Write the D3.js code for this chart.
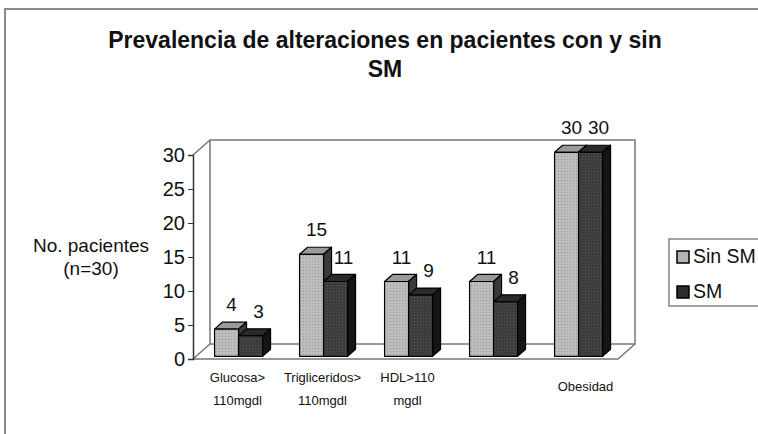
<!DOCTYPE html>
<html lang="es">
  <head>
    <meta charset="UTF-8" />
    <title>Prevalencia de alteraciones en pacientes con y sin SM</title>
    <script src="https://d3js.org/d3.v7.min.js"></script>
    <style>
      body {
        margin: 0;
        padding: 0;
        background: #fff;
        font-family: "Liberation Sans", Arial, sans-serif;
      }
      svg {
        display: block;
      }
    </style>
  </head>
  <body>
    <svg width="758" height="434"></svg>
    <script>
      // data
      const categories = ["Glucosa", "Trigliceridos", "HDL", "Otro", "Obesidad"];
      const categoryLabels = [
        ["Glucosa>", "110mgdl"],
        ["Trigliceridos>", "110mgdl"],
        ["HDL>110", "mgdl"],
        [],
        ["Obesidad"],
      ];
      const sinSM = [4, 15, 11, 11, 30];
      const conSM = [3, 11, 9, 8, 30];
      const yTicks = [0, 5, 10, 15, 20, 25, 30];
      const seriesNames = ["Sin SM", "SM"];

      const svg = d3.select("svg");

      // outer frame of the chart area
      svg
        .append("rect")
        .attr("x", 5)
        .attr("y", 9)
        .attr("width", 800)
        .attr("height", 500)
        .attr("fill", "none")
        .attr("stroke", "#8a8a8a")
        .attr("stroke-width", 2);

      // title
      const title = svg
        .append("text")
        .attr("text-anchor", "middle")
        .attr("font-weight", "bold")
        .attr("font-size", 23)
        .attr("fill", "#111");
      title.append("tspan").attr("x", 385).attr("y", 48).text("Prevalencia de alteraciones en pacientes con y sin");
      title.append("tspan").attr("x", 385).attr("y", 77).text("SM");

      const x = d3.scaleBand().domain(categories).range([193, 618]);
      const y = d3.scaleLinear().domain([0, 30]).range([359, 155]);

      // 3d depth of the box
      const dx = 17,
        dy = -15;
      const barW = 24;
      const fOff = 0.18; // bar front position inside depth
      const fDepth = 0.47; // bar depth

      const frame = svg.append("g").attr("fill", "none").attr("stroke", "#777").attr("stroke-width", 1.5);
      const x0 = x.range()[0],
        x1 = x.range()[1];
      // back wall
      frame
        .append("rect")
        .attr("x", x0 + dx)
        .attr("y", y(30) + dy)
        .attr("width", x1 - x0)
        .attr("height", y(0) - y(30));
      // left wall
      frame
        .append("path")
        .attr("d", `M${x0},${y(30)}L${x0 + dx},${y(30) + dy}M${x0},${y(0)}L${x0 + dx},${y(0) + dy}`);
      // floor
      frame
        .append("path")
        .attr("d", `M${x0},${y(0)}L${x1},${y(0)}L${x1 + dx},${y(0) + dy}`);

      // y axis
      const yAxis = svg
        .append("g")
        .attr("transform", `translate(${x0},0)`)
        .call(d3.axisLeft(y).tickValues(yTicks).tickSize(5).tickPadding(3));
      yAxis.select(".domain").attr("stroke", "#333").attr("stroke-width", 1.5);
      yAxis.selectAll(".tick line").attr("stroke", "#333");
      yAxis
        .selectAll(".tick text")
        .attr("font-family", "Liberation Sans, Arial, sans-serif")
        .attr("font-size", 20)
        .attr("fill", "#111");

      // axis title
      const yTitle = svg
        .append("text")
        .attr("text-anchor", "middle")
        .attr("font-size", 19)
        .attr("fill", "#111");
      yTitle.append("tspan").attr("x", 91).attr("y", 252).text("No. pacientes");
      yTitle.append("tspan").attr("x", 91).attr("y", 275).text("(n=30)");

      // dotted texture for the bars
      const defs = svg.append("defs");
      const pat = defs
        .append("pattern")
        .attr("id", "dots")
        .attr("width", 3)
        .attr("height", 3)
        .attr("patternUnits", "userSpaceOnUse");
      pat.append("rect").attr("width", 3).attr("height", 3).attr("fill", "#bdbdbd");
      pat.append("rect").attr("width", 1).attr("height", 1).attr("fill", "#999");
      const pat2 = defs
        .append("pattern")
        .attr("id", "dots2")
        .attr("width", 3)
        .attr("height", 3)
        .attr("patternUnits", "userSpaceOnUse");
      pat2.append("rect").attr("width", 3).attr("height", 3).attr("fill", "#3c3c3c");
      pat2.append("rect").attr("width", 1).attr("height", 1).attr("fill", "#555");

      const styles = [
        { front: "url(#dots)", top: "#9a9a9a", side: "#3a3a3a" },
        { front: "url(#dots2)", top: "#2a2a2a", side: "#151515" },
      ];

      function drawBar(g, left, value, st) {
        const ox = dx * fOff,
          oy = dy * fOff;
        const bx = dx * fDepth,
          by = dy * fDepth;
        const xl = left + ox,
          xr = left + ox + barW;
        const yt = y(value) + oy,
          yb = y(0) + oy;
        g.append("path")
          .attr("d", `M${xl},${yt}L${xl + bx},${yt + by}L${xr + bx},${yt + by}L${xr},${yt}Z`)
          .attr("fill", st.top);
        g.append("path")
          .attr("d", `M${xr},${yt}L${xr + bx},${yt + by}L${xr + bx},${yb + by}L${xr},${yb}Z`)
          .attr("fill", st.side);
        g.append("rect")
          .attr("x", xl)
          .attr("y", yt)
          .attr("width", barW)
          .attr("height", yb - yt)
          .attr("fill", st.front);
      }

      const bars = svg.append("g").attr("stroke", "#000").attr("stroke-width", 1.2).attr("stroke-linejoin", "round");
      const labels = svg
        .append("g")
        .attr("text-anchor", "middle")
        .attr("font-size", 19)
        .attr("fill", "#111");

      categories.forEach((c, i) => {
        const mid = x(c) + x.bandwidth() / 2;
        const series = [sinSM[i], conSM[i]];
        series.forEach((v, s) => {
          const left = mid - barW + s * barW;
          drawBar(bars.append("g"), left, v, styles[s]);
          labels
            .append("text")
            .attr("x", left + barW / 2 + dx * fOff + 5 + s * 3)
            .attr("y", y(v) + dy * fOff - 18)
            .text(v);
        });

        // category labels
        const lines = categoryLabels[i];
        const cl = svg
          .append("text")
          .attr("text-anchor", "middle")
          .attr("font-size", 13)
          .attr("fill", "#111");
        lines.forEach((t, k) => {
          cl.append("tspan")
            .attr("x", mid + (lines.length === 1 ? 10 : 2))
            .attr("y", lines.length === 1 ? 391 : 382 + k * 23)
            .text(t);
        });
      });

      // legend
      const legend = svg.append("g").attr("transform", "translate(669,239)");
      legend
        .append("rect")
        .attr("width", 120)
        .attr("height", 67)
        .attr("fill", "#fff")
        .attr("stroke", "#666")
        .attr("stroke-width", 1.2);
      seriesNames.forEach((n, s) => {
        const row = legend.append("g").attr("transform", `translate(8,${12 + s * 35})`);
        row
          .append("rect")
          .attr("width", 12)
          .attr("height", 12)
          .attr("fill", s === 0 ? "#b4b4b4" : "#2e2e2e")
          .attr("stroke", "#000")
          .attr("stroke-width", 1.5);
        row
          .append("text")
          .attr("x", 16)
          .attr("y", 12)
          .attr("font-size", 19.5)
          .attr("fill", "#111")
          .text(n);
      });
    </script>
  </body>
</html>
